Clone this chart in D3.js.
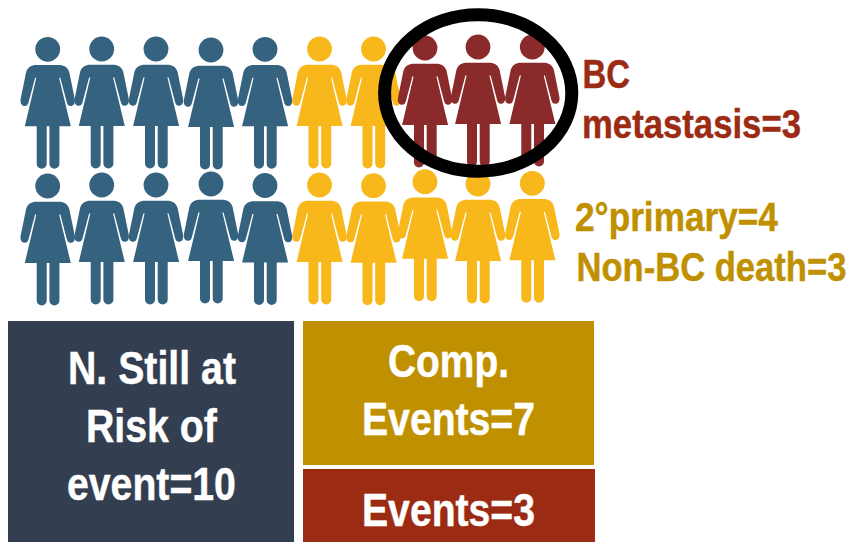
<!DOCTYPE html>
<html><head><meta charset="utf-8">
<script src="https://cdn.jsdelivr.net/npm/d3@7"></script>
<style>html,body{margin:0;padding:0;background:#fff}svg{display:block}text{font-family:"Liberation Sans",Arial,sans-serif;font-weight:700}</style>
</head><body><div id="chart"></div>
<script>
const columns = [0,1,2,3,4,5,6,7,8,9];
const rowOne = ["risk","risk","risk","risk","risk","competing","competing","event","event","event"];
const rowTwo = ["risk","risk","risk","risk","risk","competing","competing","competing","competing","competing"];
const groups = ["risk","competing","event"];
const boxLabels = [["N. Still at","Risk of","event=10"],["Comp.","Events=7"],["Events=3"]];
const sideLabels = [["BC","metastasis=3"],["2°primary=4","Non-BC death=3"]];

const W = 854, H = 542;
const svg = d3.select("#chart").append("svg").attr("width",W).attr("height",H);
const color = d3.scaleOrdinal(groups,["#34627F","#F8B71A","#8A2A2A"]);
const xHead = d3.scaleOrdinal(columns,[47.7,101.7,156,211,265,319.5,373.5,425,478,532.3]);
const yOne = d3.scaleOrdinal(columns,[49.3,49,49,50,49.3,49,49,48,47,47]);
const yTwo = d3.scaleOrdinal(columns,[186,185,185,184,185.5,185,185.7,181.7,184,183.3]);

function personPath(){
  const p = d3.path();
  p.moveTo(0,15.7);
  p.lineTo(-11,15.7);
  p.bezierCurveTo(-16.5,15.7,-20,18,-21.6,23);
  p.lineTo(-27,49.5);
  p.bezierCurveTo(-28,54.5,-25.5,56.8,-23,56.8);
  p.bezierCurveTo(-21,56.8,-19.8,55.5,-19.2,53.5);
  p.lineTo(-12.6,28.5);
  p.lineTo(-11.4,28.5);
  p.lineTo(-22.9,77);
  p.lineTo(-11,77);
  p.lineTo(-11,114.5);
  p.arc(-6,114.5,5,Math.PI,0,true);
  p.lineTo(-1,77);
  p.lineTo(1.7,77);
  p.lineTo(1.7,114.5);
  p.arc(6.7,114.5,5,Math.PI,0,true);
  p.lineTo(11.7,77);
  p.lineTo(23.1,77);
  p.lineTo(11.4,28.5);
  p.lineTo(12.6,28.5);
  p.lineTo(19.2,53.5);
  p.bezierCurveTo(19.8,55.5,21,56.8,23,56.8);
  p.bezierCurveTo(25.5,56.8,28,54.5,27,49.5);
  p.lineTo(21.6,23);
  p.bezierCurveTo(20,18,16.5,15.7,11,15.7);
  p.closePath();
  return p.toString();
}
const body = personPath();
function drawRow(data,yS,name){
  const g = svg.append("g").attr("class",name).selectAll("g").data(data).join("g")
    .attr("transform",(d,i)=>`translate(${xHead(i)},${yS(i)})`).attr("fill",d=>color(d));
  g.append("circle").attr("r",12.4);
  g.append("path").attr("d",body);
}
drawRow(rowTwo,yTwo,"row2");
drawRow(rowOne,yOne,"row1");

svg.append("ellipse").attr("cx",478.2).attr("cy",93).attr("rx",93.6).attr("ry",78.2)
  .attr("fill","none").attr("stroke","#000").attr("stroke-width",13);

function put(t,x,base,size,width,fill){
  const el = svg.append("text").attr("font-size",size).attr("fill",fill)
    .attr("stroke",fill).attr("stroke-width",0.45).text(t);
  const sx = width/el.node().getComputedTextLength();
  el.attr("transform",`translate(${x},${base}) scale(${sx},1)`);
}
const boxes = [[8,321,286,221,"#333F50"],[303,321,291,144,"#BF9000"],[303,469,292,73,"#9C2B13"]];
svg.append("g").selectAll("rect").data(boxes).join("rect")
  .attr("x",d=>d[0]).attr("y",d=>d[1]).attr("width",d=>d[2]).attr("height",d=>d[3]).attr("fill",d=>d[4]);

put(boxLabels[0][0],68,384,47,168,"#fff");
put(boxLabels[0][1],86,442,47,131,"#fff");
put(boxLabels[0][2],67,500,47,169,"#fff");
put(boxLabels[1][0],388,377,47,121,"#fff");
put(boxLabels[1][1],362,435,47,173,"#fff");
put(boxLabels[2][0],362,526,47,173,"#fff");

put(sideLabels[0][0],582.5,87.7,40,47.5,"#9C2B13");
put(sideLabels[0][1],582,138,40,219,"#9C2B13");
put(sideLabels[1][0],575,231,40,203,"#BF9000");
put(sideLabels[1][1],576.5,281,40,270,"#BF9000");
</script></body></html>
